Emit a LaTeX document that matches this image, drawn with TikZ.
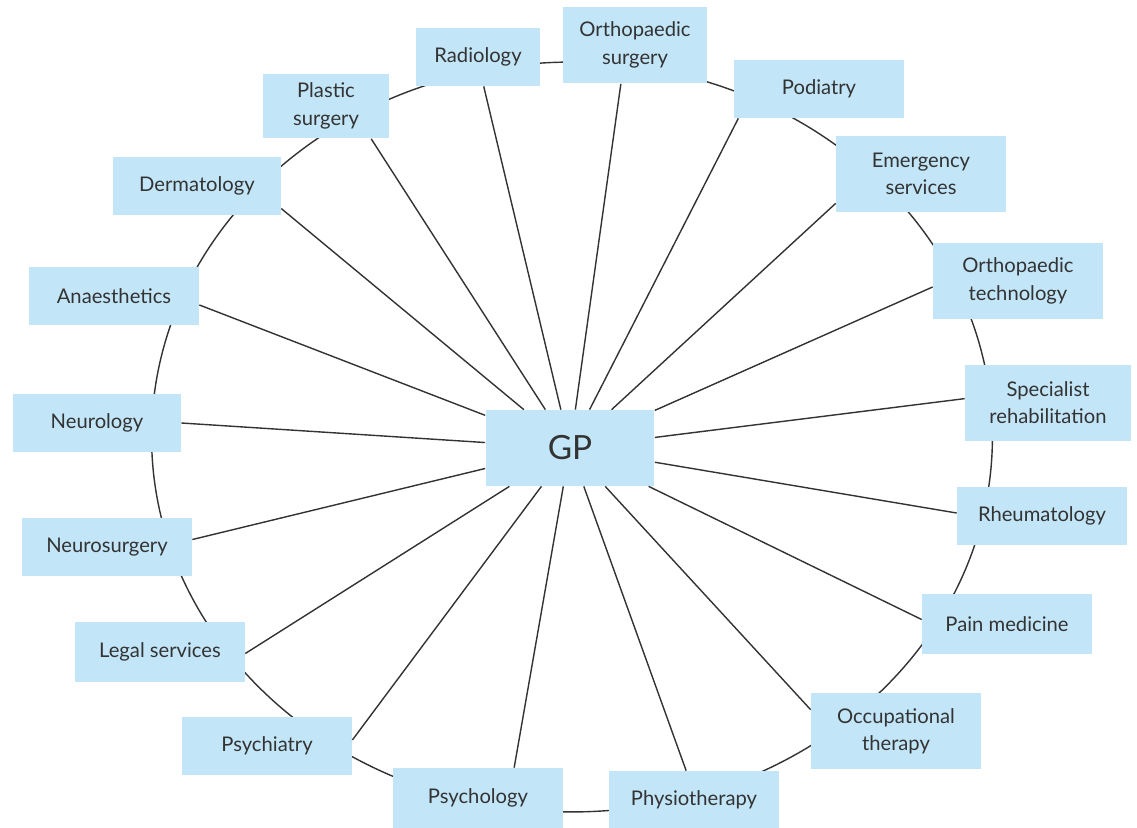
\documentclass[tikz,border=0pt]{standalone}
\usepackage{fontspec}
\setmainfont{Lato}
\usetikzlibrary{calc}
\definecolor{boxblue}{HTML}{C2E6F8}
\definecolor{inkgray}{HTML}{333333}
\tikzset{
	box/.style={fill=boxblue, text=inkgray, align=center, inner sep=0pt,
		minimum width=3.4cm, minimum height=1.16cm,
		font=\fontsize{11.5}{15.5}\selectfont},
	tallbox/.style={box, minimum height=1.52cm},
	spoke/.style={draw=inkgray, line width=0.8pt}
}

\begin{document}
\begin{tikzpicture}[x=0.02cm, y=-0.02cm]
		%%%%% START %%%%%
		
		\useasboundingbox (0, 0) rectangle (1137, 828);
		
		\draw[spoke] (572, 437) ellipse (8.41cm and 7.5cm);
		
		\node[box, minimum width=3.38cm, minimum height=1.52cm, font=\fontsize{19}{22}\selectfont] (gp) at (570, 448) {GP};
		
		\node[box, minimum width=2.48cm] (radio) at (478, 57) {Radiology};
		\node[tallbox, minimum width=2.88cm, minimum height=1.54cm] (orthosurg) at (635, 45) {Orthopaedic\\surgery};
		\node[box] (podia) at (819, 89) {Podiatry};
		\node[tallbox] (emerg) at (921, 174) {Emergency\\services};
		\node[tallbox] (orthotech) at (1018, 281) {Orthopaedic\\technology};
		\node[tallbox, minimum width=3.32cm] (rehab) at (1048, 403) {Specialist\\rehabilitation};
		\node[box] (rheum) at (1042, 516) {Rheumatology};
		\node[box, minimum height=1.2cm] (pain) at (1007, 624) {Pain medicine};
		\node[tallbox] (occup) at (896, 731) {Occupational\\therapy};
		\node[box] (physio) at (694, 800) {Physiotherapy};
		\node[box, minimum height=1.2cm] (psycho) at (478, 798) {Psychology};
		\node[box] (psychi) at (267, 746) {Psychiatry};
		\node[box, minimum height=1.2cm] (legal) at (160, 652) {Legal services};
		\node[box] (nsurg) at (107, 547) {Neurosurgery};
		\node[box, minimum width=3.36cm] (neuro) at (97, 423) {Neurology};
		\node[box] (anaes) at (114, 296) {Anaesthetics};
		\node[box, minimum width=3.36cm] (derma) at (197, 186) {Dermatology};
		\node[box, minimum width=2.52cm, minimum height=1.3cm] (plastic) at (326, 106) {Plastic\\surgery};
		
		% spokes end where they meet each box in the original
		\foreach \n/\a in {radio/281.7, orthosurg/250.3, podia/200.6, emerg/199, orthotech/184, rehab/177.2, rheum/178.6, pain/177.3, occup/166.6, physio/105.9, psycho/40.6, psychi/4, legal/359.3, nsurg/5.4, neuro/0, anaes/354, derma/345.5, plastic/324}
			\draw[spoke] (gp) -- (\n.\a);
		
		%%%%% END %%%%%
	\end{tikzpicture}
\end{document}
